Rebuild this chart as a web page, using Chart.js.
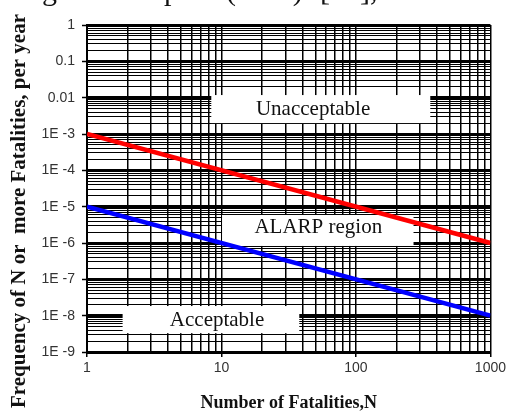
<!DOCTYPE html>
<html><head><meta charset="utf-8">
<script src="https://cdn.jsdelivr.net/npm/chart.js@4/dist/chart.umd.min.js"></script>
<style>html,body{margin:0;padding:0;background:#fff;}canvas{display:block;}</style>
</head><body>
<canvas id="c" width="509" height="414"></canvas>
<script>
// ---- data ----
const fatalitiesN = [1, 1000];
const upperCriterion = [1e-3, 1e-6];   // red line
const lowerCriterion = [1e-5, 1e-8];   // blue line
const xTickValues = [1, 10, 100, 1000];
const xTickLabels = ['1', '10', '100', '1000'];
const yTickValues = [1, 0.1, 0.01, 1e-3, 1e-4, 1e-5, 1e-6, 1e-7, 1e-8, 1e-9];
const yTickLabels = ['1', '0.1', '0.01', '1E -3', '1E -4', '1E -5', '1E -6', '1E -7', '1E -8', '1E -9'];
const minorMultipliers = [2, 3, 4, 5, 6, 7, 8, 9];
const regionNames = ['Unacceptable', 'ALARP region', 'Acceptable'];
const xTitle = 'Number of Fatalities,N';
const yTitle = 'Frequency of N or  more Fatalities, per year';
const captionFragments = ['according', 'plot', '(HSE)', '[12],'];

// ---- layout of annotations (data units) ----
const regionBoxes = [
  {x0: 8.4, x1: 357, yTop: 0.0118, yBot: 2.0e-3, tx: 48, ty: 3.3e-3},
  {x0: 10.1, x1: 268, yTop: 5.9e-6, yBot: 8.3e-7, tx: 52.5, ty: 1.88e-6},
  {x0: 1.84, x1: 37.9, yTop: 1.84e-8, yBot: 3.3e-9, tx: 9.27, ty: 5.19e-9}
];
const captionPos = [{x: 57, align: 'right'}, {x: 164, align: 'left'}, {x: 226, align: 'left'}, {x: 320, align: 'left'}];

function isDecade(v) {
  const l = Math.log10(v);
  return Math.abs(l - Math.round(l)) < 1e-9;
}
function fullTicks(decades) {
  const out = [];
  const hi = Math.max(...decades);
  decades.slice().sort((a, b) => a - b).forEach(d => {
    out.push(d);
    if (d < hi) minorMultipliers.forEach(m => out.push(+(d * m).toPrecision(6)));
  });
  return out;
}

const regionPlugin = {
  id: 'regions',
  beforeDatasetsDraw(chart) {
    const {ctx, scales: {x, y}} = chart;
    ctx.save();
    regionBoxes.forEach((b, i) => {
      const L = x.getPixelForValue(b.x0), R = x.getPixelForValue(b.x1);
      const T = y.getPixelForValue(b.yTop), B = y.getPixelForValue(b.yBot);
      ctx.fillStyle = '#ffffff';
      ctx.fillRect(L, T, R - L, B - T);
      ctx.fillStyle = '#111';
      ctx.font = '21px "Liberation Serif", "Times New Roman", serif';
      ctx.textAlign = 'center';
      ctx.textBaseline = 'alphabetic';
      ctx.fillText(regionNames[i], x.getPixelForValue(b.tx), y.getPixelForValue(b.ty));
    });
    ctx.restore();
  },
  afterDraw(chart) {
    const ctx = chart.ctx;
    ctx.save();
    ctx.setTransform(1, 0, 0, 1, 0, 0);
    ctx.translate(25, 211);
    ctx.rotate(-Math.PI / 2);
    ctx.font = 'bold 21px "Liberation Serif", "Times New Roman", serif';
    ctx.fillStyle = '#111';
    ctx.textAlign = 'center';
    ctx.textBaseline = 'alphabetic';
    ctx.fillText(yTitle, 0, 0);
    ctx.restore();
    // cropped caption line at the very top
    ctx.save();
    ctx.setTransform(1, 0, 0, 1, 0, 0);
    ctx.font = '30px "Liberation Serif", "Times New Roman", serif';
    ctx.fillStyle = '#111';
    captionFragments.forEach((t, i) => {
      ctx.textAlign = captionPos[i].align;
      ctx.textBaseline = 'alphabetic';
      ctx.fillText(t, captionPos[i].x, 0);
    });
    ctx.restore();
  }
};

new Chart(document.getElementById('c'), {
  type: 'line',
  data: {
    datasets: [
      {
        label: 'Upper limit',
        data: fatalitiesN.map((n, i) => ({x: n, y: upperCriterion[i]})),
        borderColor: '#ff0000', borderWidth: 4.5, pointRadius: 0, fill: false
      },
      {
        label: 'Lower limit',
        data: fatalitiesN.map((n, i) => ({x: n, y: lowerCriterion[i]})),
        borderColor: '#0000ff', borderWidth: 4.5, pointRadius: 0, fill: false
      }
    ]
  },
  options: {
    responsive: false,
    animation: false,
    events: [],
    layout: {padding: {top: 25, right: 16, left: 0, bottom: 0}},
    plugins: {legend: {display: false}, tooltip: {enabled: false}, title: {display: false}},
    scales: {
      x: {
        type: 'logarithmic',
        min: 1, max: 1000,
        afterFit: s => { s.height = 62; },
        afterBuildTicks: s => { s.ticks = fullTicks(xTickValues).map(v => ({value: v})); },
        ticks: {
          autoSkip: false, maxRotation: 0, padding: 3,
          color: '#333',
          font: {family: '"Liberation Sans", Arial, sans-serif', size: 14},
          callback: v => { const i = xTickValues.findIndex(t => Math.abs(t - v) < 1e-9 * t); return i >= 0 ? xTickLabels[i] : ''; }
        },
        grid: {
          color: '#000', lineWidth: 1.5,
          tickLength: 5,
          tickColor: c => (c.tick && isDecade(c.tick.value)) ? '#000' : 'rgba(0,0,0,0)',
          tickWidth: 1.5
        },
        border: {display: true, color: '#000', width: 2},
        title: {
          display: true, text: xTitle, color: '#111',
          font: {family: '"Liberation Serif", "Times New Roman", serif', size: 18, weight: 'bold'},
          padding: {top: 0, bottom: 0}
        }
      },
      y: {
        type: 'logarithmic',
        min: 1e-9, max: 1,
        afterFit: s => { s.width = 87; },
        afterBuildTicks: s => { s.ticks = fullTicks(yTickValues).map(v => ({value: v})); },
        ticks: {
          autoSkip: false, padding: 7,
          color: '#333',
          font: {family: '"Liberation Sans", Arial, sans-serif', size: 14},
          callback: v => { const i = yTickValues.findIndex(t => Math.abs(t - v) < 1e-9 * t); return i >= 0 ? yTickLabels[i] : ''; }
        },
        grid: {
          color: '#000',
          lineWidth: c => (c.tick && isDecade(c.tick.value)) ? 3 : 1,
          tickLength: 5,
          tickColor: c => (c.tick && isDecade(c.tick.value)) ? '#000' : 'rgba(0,0,0,0)',
          tickWidth: 1.5
        },
        border: {display: true, color: '#000', width: 2}
      }
    }
  },
  plugins: [regionPlugin]
});
</script>
</body></html>
